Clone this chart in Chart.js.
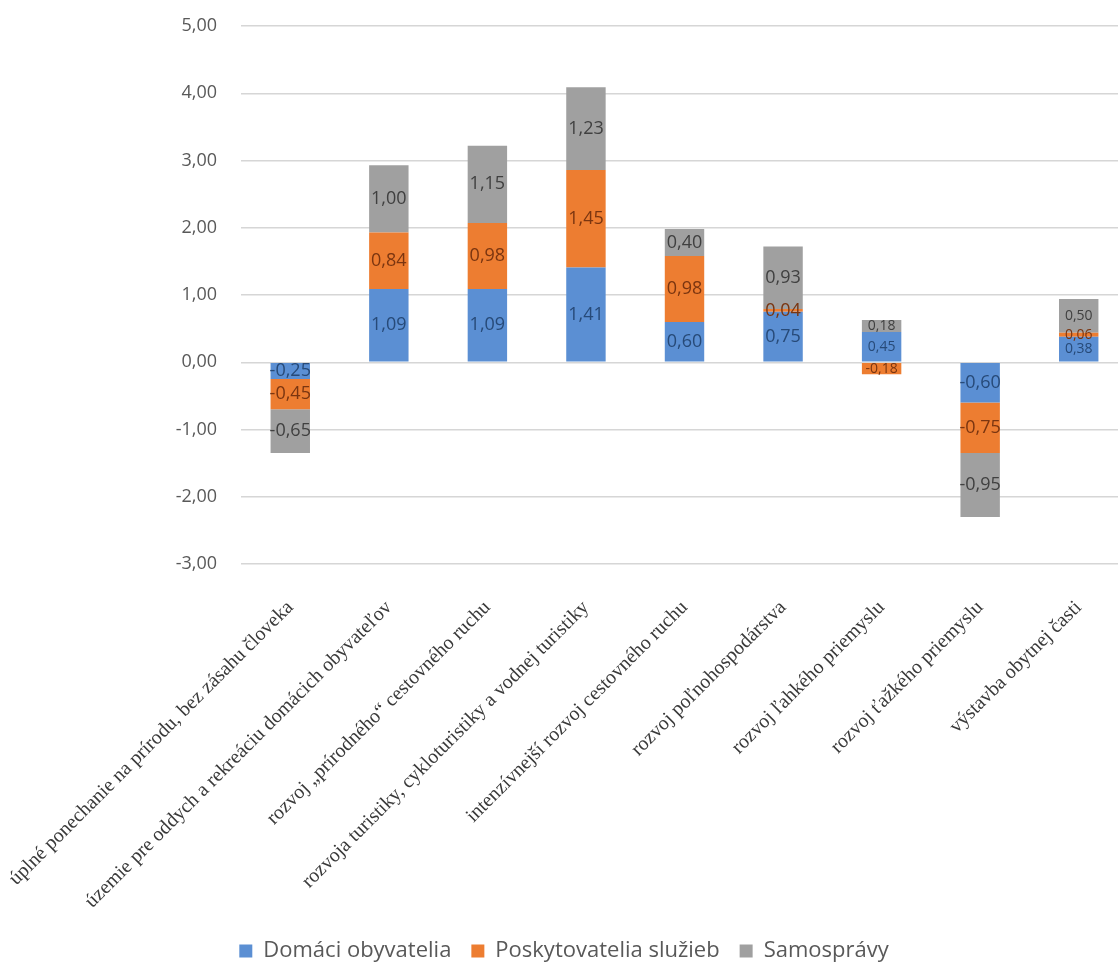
<!DOCTYPE html>
<html>
<head>
<meta charset="utf-8">
<script src="https://cdn.jsdelivr.net/npm/chart.js@4"></script>
<style>
  html, body { margin: 0; padding: 0; background: #fff; overflow: hidden; }
  #wrap { width: 1128px; height: 972px; }
</style>
</head>
<body>
<div id="wrap"><canvas id="chart" width="1128" height="972"></canvas></div>
<script>
var categories = [
  'úplné ponechanie na prírodu, bez zásahu človeka',
  'územie pre oddych a rekreáciu domácich obyvateľov',
  'rozvoj „prírodného“ cestovného ruchu',
  'rozvoja turistiky, cykloturistiky a vodnej turistiky',
  'intenzívnejší rozvoj cestovného ruchu',
  'rozvoj poľnohospodárstva',
  'rozvoj ľahkého priemyslu',
  'rozvoj ťažkého priemyslu',
  'výstavba obytnej časti'
];
var domaci = [-0.25, 1.09, 1.09, 1.41, 0.60, 0.75, 0.45, -0.60, 0.38];
var poskytovatelia = [-0.45, 0.84, 0.98, 1.45, 0.98, 0.04, -0.18, -0.75, 0.06];
var samospravy = [-0.65, 1.00, 1.15, 1.23, 0.40, 0.93, 0.18, -0.95, 0.50];
var seriesNames = ['Domáci obyvatelia', 'Poskytovatelia služieb', 'Samosprávy'];
var yTicks = [5, 4, 3, 2, 1, 0, -1, -2, -3];

var barColors = ['#5b8fd3', '#ed7d31', '#a0a0a0'];
var labelColors = ['#274a78', '#7a3510', '#404040'];
var smallLabelBars = [6, 8];

function fmt(v) {
  return v.toFixed(2).replace('.', ',');
}

// draws the value in the middle of each segment
var segmentLabels = {
  id: 'segmentLabels',
  afterDatasetsDraw: function (chart) {
    var ctx = chart.ctx;
    ctx.save();
    ctx.textAlign = 'center';
    ctx.textBaseline = 'middle';
    chart.data.datasets.forEach(function (ds, di) {
      var meta = chart.getDatasetMeta(di);
      meta.data.forEach(function (bar, i) {
        var size = smallLabelBars.indexOf(i) >= 0 ? 14 : 18;
        ctx.font = size + 'px "Open Sans"';
        ctx.fillStyle = labelColors[di];
        ctx.fillText(fmt(ds.data[i]), bar.x, (bar.y + bar.base) / 2);
      });
    });
    ctx.restore();
  }
};

new Chart(document.getElementById('chart'), {
  type: 'bar',
  data: {
    labels: categories,
    datasets: [
      { label: seriesNames[0], data: domaci, backgroundColor: barColors[0] },
      { label: seriesNames[1], data: poskytovatelia, backgroundColor: barColors[1] },
      { label: seriesNames[2], data: samospravy, backgroundColor: barColors[2] }
    ]
  },
  options: {
    responsive: false,
    animation: false,
    layout: { padding: { top: 26, right: 0, bottom: 0, left: 0 } },
    datasets: {
      bar: { barPercentage: 0.4, categoryPercentage: 1 }
    },
    scales: {
      x: {
        stacked: true,
        grid: { display: false },
        border: { display: false },
        ticks: {
          minRotation: 45,
          maxRotation: 45,
          autoSkip: false,
          padding: 24,
          color: '#3a3a3a',
          font: { family: '"Liberation Serif", "DejaVu Serif", serif', size: 20 }
        },
        afterFit: function (scale) {
          scale.height = 356;
          scale.paddingLeft = 0;
          scale.paddingRight = 0;
        }
      },
      y: {
        stacked: true,
        min: -3,
        max: 5,
        afterBuildTicks: function (scale) {
          scale.ticks = yTicks.map(function (v) { return { value: v }; });
        },
        grid: { color: '#d6d6d6', lineWidth: 1.5, drawTicks: false },
        border: { display: false },
        ticks: {
          padding: 24,
          color: '#595959',
          font: { family: '"Open Sans"', size: 18 },
          callback: function (v) { return fmt(v); }
        },
        afterFit: function (scale) {
          scale.width = 241;
          scale.paddingTop = 0;
          scale.paddingBottom = 0;
        }
      }
    },
    plugins: {
      legend: {
        position: 'bottom',
        labels: {
          boxWidth: 13,
          boxHeight: 13,
          padding: 20,
          color: '#595959',
          font: { family: '"Open Sans"', size: 22 }
        }
      },
      tooltip: { enabled: false }
    }
  },
  plugins: [segmentLabels]
});
</script>
</body>
</html>
